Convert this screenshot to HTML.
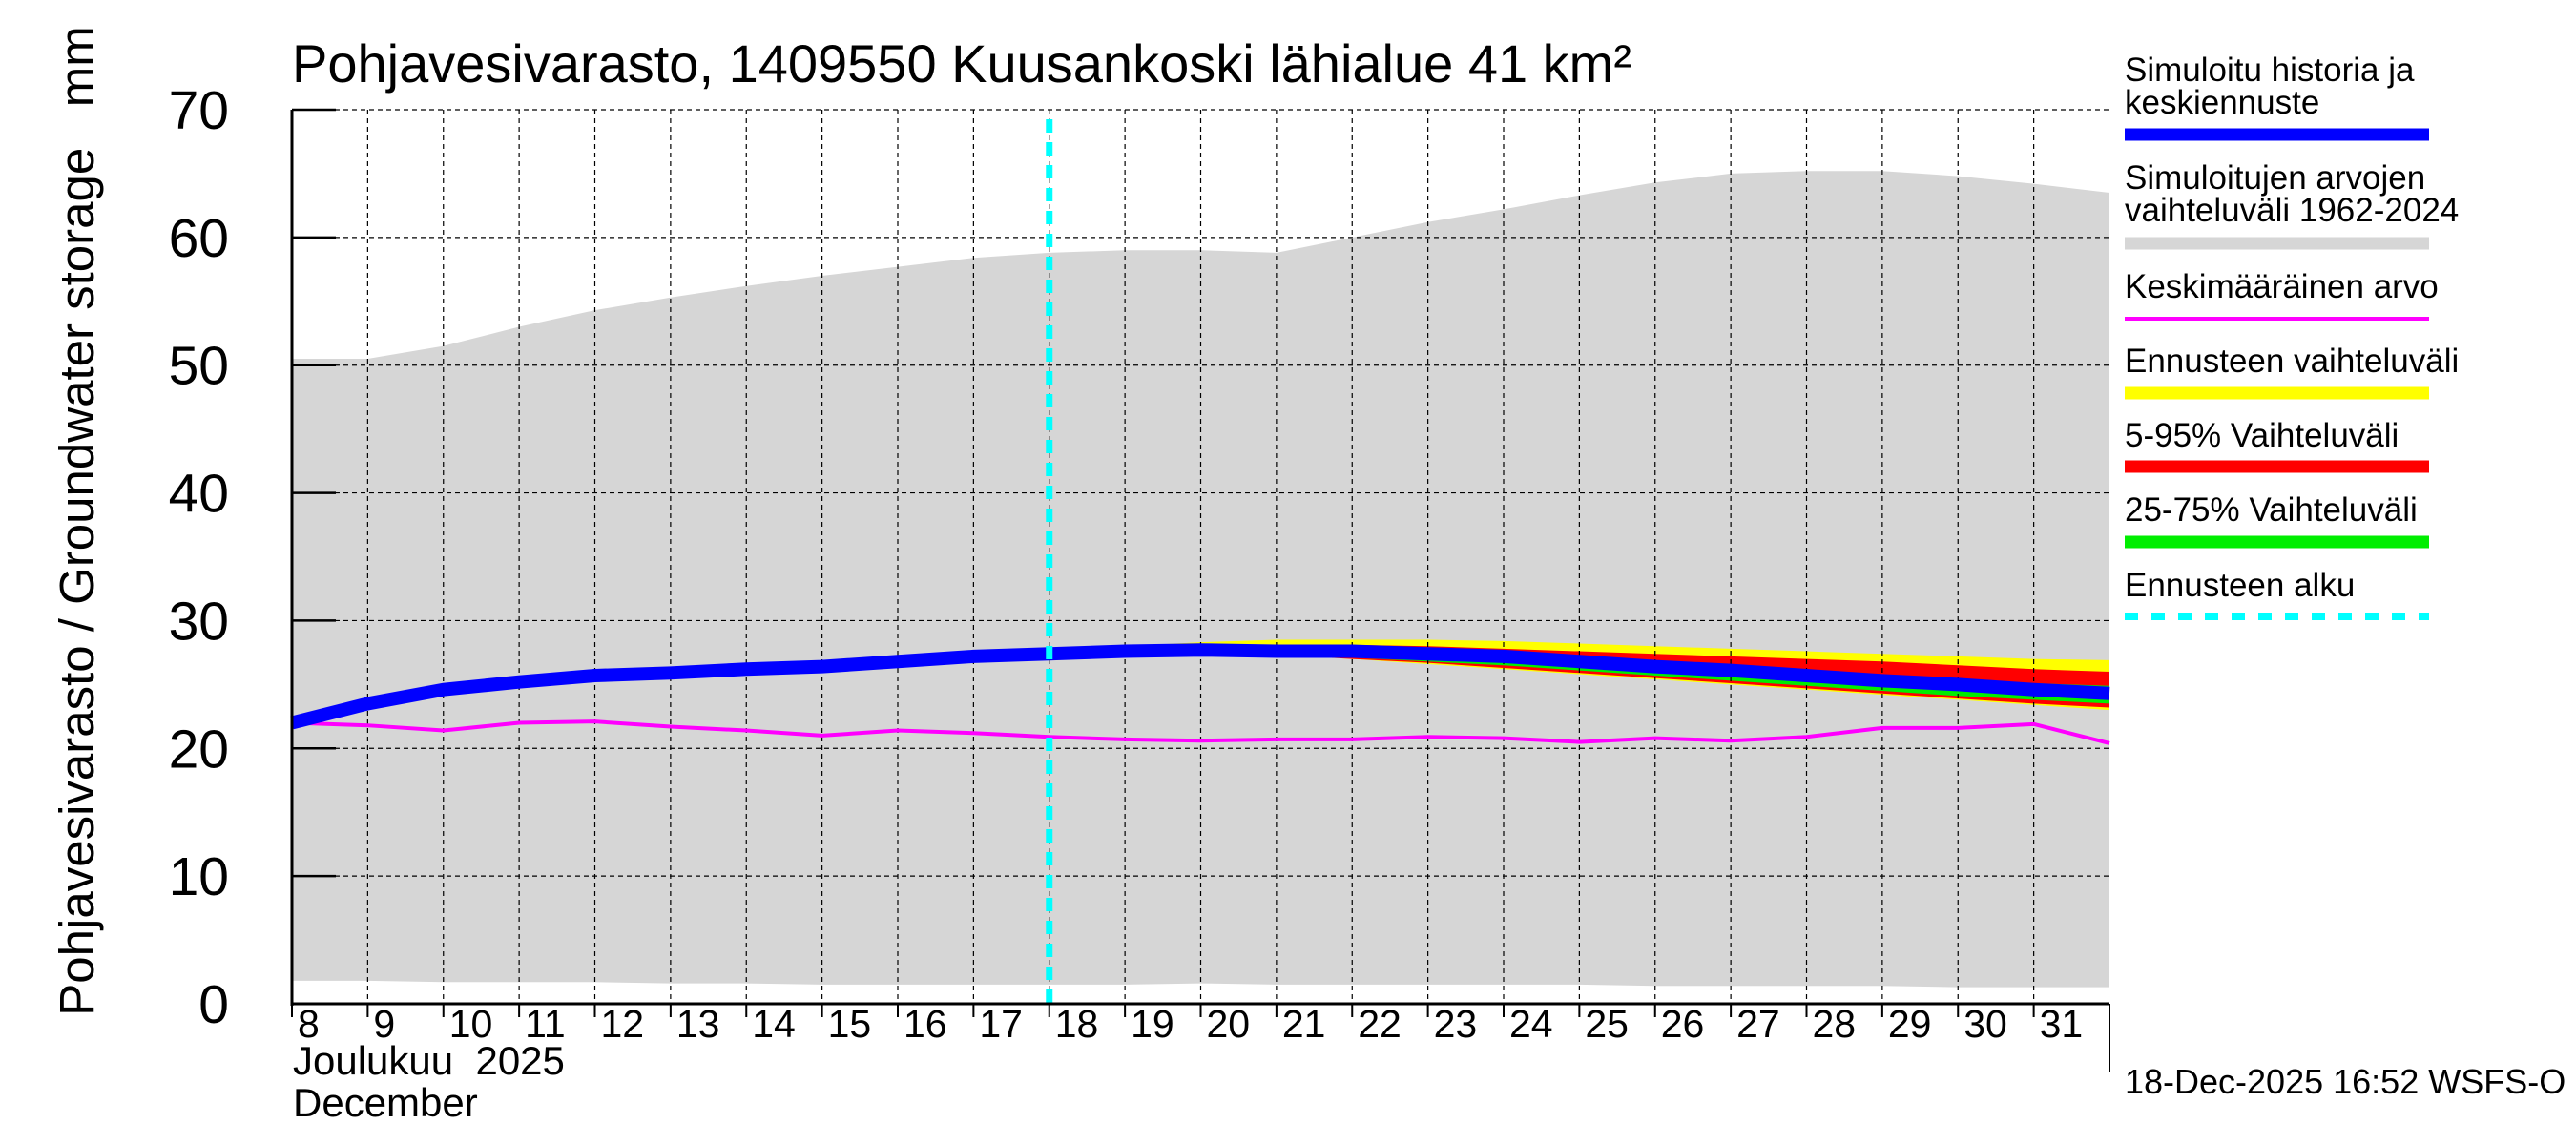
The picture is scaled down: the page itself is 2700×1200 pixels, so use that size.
<!DOCTYPE html>
<html><head><meta charset="utf-8"><style>
body{margin:0;background:#fff}
svg{display:block;font-family:"Liberation Sans",sans-serif}
</style></head><body>
<svg id="chart" width="2700" height="1200" viewBox="0 0 2700 1200">
<g id="bands"></g><g id="grid"></g><g id="lines"></g><g id="axes"></g><g id="legend"></g>
</svg>
<script>
const days=[8,9,10,11,12,13,14,15,16,17,18,19,20,21,22,23,24,25,26,27,28,29,30,31,32];
const histHi=[50.5,50.5,51.5,53,54.3,55.3,56.2,57,57.7,58.4,58.8,59,59,58.8,60,61.2,62.2,63.3,64.3,65,65.2,65.2,64.8,64.2,63.5];
const histLo=[1.8,1.8,1.7,1.7,1.7,1.6,1.6,1.5,1.5,1.5,1.5,1.5,1.6,1.5,1.5,1.5,1.5,1.5,1.4,1.4,1.4,1.4,1.3,1.3,1.3];
const meanVals=[22,21.8,21.4,22.0,22.1,21.7,21.4,21.0,21.4,21.2,20.9,20.7,20.6,20.7,20.7,20.9,20.8,20.5,20.8,20.6,20.9,21.6,21.6,21.9,20.4];
const simVals=[22,23.5,24.6,25.2,25.7,25.9,26.2,26.4,26.8,27.2,27.4,27.6,27.7,27.6,27.6,27.4,27.2,26.8,26.4,26.1,25.7,25.3,25.0,24.6,24.3];
const fcDays=[18,19,20,21,22,23,24,25,26,27,28,29,30,31,32];
const yellowHi=[27.4,28.0,28.3,28.5,28.5,28.5,28.4,28.2,28.0,27.8,27.6,27.4,27.2,27.0,26.9];
const yellowLo=[27.4,27.4,27.4,27.3,27.0,26.6,26.2,25.8,25.4,25.0,24.6,24.2,23.8,23.4,23.0];
const redHi=[27.4,27.8,28.0,28.1,28.1,28.0,27.8,27.6,27.4,27.2,27.0,26.8,26.5,26.2,26.0];
const redLo=[27.4,27.5,27.5,27.3,27.0,26.7,26.3,25.9,25.5,25.1,24.7,24.3,23.9,23.5,23.2];
const greenHi=[27.4,27.7,27.8,27.8,27.6,27.4,27.1,26.8,26.5,26.2,25.9,25.6,25.3,25.1,24.9];
const greenLo=[27.4,27.5,27.5,27.4,27.1,26.8,26.5,26.1,25.7,25.3,24.9,24.5,24.1,23.8,23.5];
const yTicks=[0,10,20,30,40,50,60,70];
const xTickLabels=["8","9","10","11","12","13","14","15","16","17","18","19","20","21","22","23","24","25","26","27","28","29","30","31"];
const forecastDay=18;

const X0=306,X1=2211,Y0=1052,Y1=115;
const x=d=>X0+(d-8)*(X1-X0)/24;
const y=v=>Y0-v*(Y0-Y1)/70;
const NS="http://www.w3.org/2000/svg";
function mk(tag,attrs,parent){const e=document.createElementNS(NS,tag);for(const k in attrs)e.setAttribute(k,attrs[k]);parent.appendChild(e);return e;}
const bands=document.getElementById('bands'),grid=document.getElementById('grid'),lines=document.getElementById('lines'),axes=document.getElementById('axes'),legend=document.getElementById('legend'),svg=document.getElementById('chart');
function area(xs,hi,lo,fill,name){
  let p=xs.map((d,i)=>(i?'L':'M')+x(d)+','+y(hi[i])).join('');
  for(let i=xs.length-1;i>=0;i--)p+='L'+x(xs[i])+','+y(lo[i]);
  const e=mk('path',{d:p+'Z',fill:fill},bands);
  
  
}
area(days,histHi,histLo,'#d6d6d6','historical-range-band');
area(fcDays,yellowHi,yellowLo,'#ffff00','forecast-range-band');
area(fcDays,redHi,redLo,'#ff0000','forecast-5-95-band');
area(fcDays,greenHi,greenLo,'#00ee00','forecast-25-75-band');
for(let d=9;d<=31;d++){const e=mk('line',{x1:x(d),x2:x(d),y1:Y1,y2:Y0,stroke:'#000','stroke-width':1.2,'stroke-dasharray':'5,4'},grid);

}
yTicks.forEach(v=>{if(v===0)return;const e=mk('line',{x1:X0,x2:X1,y1:y(v),y2:y(v),stroke:'#000','stroke-width':1.2,'stroke-dasharray':'5,4'},grid);

});
function line(xs,vals,col,w,name){const e=mk('polyline',{points:xs.map((d,i)=>x(d)+','+y(vals[i])).join(' '),fill:'none',stroke:col,'stroke-width':w,'stroke-linejoin':'round'},lines);

}
line(days,meanVals,'#ff00ff',4,'mean-line');
line(days,simVals,'#0000ff',14,'simulated-line');
const fl=mk('line',{x1:x(forecastDay),x2:x(forecastDay),y1:Y1+10,y2:Y0,stroke:'#00ffff','stroke-width':7,'stroke-dasharray':'14,10'},lines);


mk('line',{x1:X0,x2:X0,y1:Y1,y2:Y0+2,stroke:'#000','stroke-width':3},axes);
mk('line',{x1:X0,x2:X1,y1:Y0,y2:Y0,stroke:'#000','stroke-width':3},axes);
mk('line',{x1:X1,x2:X1,y1:Y0,y2:1123,stroke:'#000','stroke-width':2},axes);
yTicks.forEach(v=>{mk('line',{x1:X0,x2:352,y1:y(v),y2:y(v),stroke:'#000','stroke-width':2.5},axes);
const t=mk('text',{x:240,y:y(v)+20,'font-size':57,'text-anchor':'end'},axes);t.textContent=v;

});
xTickLabels.forEach((s,i)=>{const d=8+i;mk('line',{x1:x(d),x2:x(d),y1:Y0,y2:Y0+14,stroke:'#000','stroke-width':2},axes);
const t=mk('text',{x:x(d)+6,y:1087,'font-size':41},axes);t.textContent=s;

});
function txt(s,ax,ay,fs,name,extra){const t=mk('text',Object.assign({x:ax,y:ay,'font-size':fs},extra||{}),svg);t.textContent=s;

return t;}
txt('Pohjavesivarasto, 1409550 Kuusankoski lähialue 41 km²',306,86,56,'chart-title');
txt('Joulukuu\u00a0 2025',307,1126,42,'x-axis-month');
txt('December',307,1170,42,'x-axis-month-en');
txt('Pohjavesivarasto / Groundwater storage\u00a0\u00a0 mm',0,0,51,'y-axis-title',{transform:'translate(98,546) rotate(-90)','text-anchor':'middle'});
txt('18-Dec-2025 16:52 WSFS-O',2227,1146,36,'timestamp');
const lg=[
 [['Simuloitu historia ja','keskiennuste'],[85,119],141,'#0000ff',13,null,'legend-simulated'],
 [['Simuloitujen arvojen','vaihteluväli 1962-2024'],[198,232],255,'#d6d6d6',13,null,'legend-historical-range'],
 [['Keskimääräinen arvo'],[312],334,'#ff00ff',4,null,'legend-mean'],
 [['Ennusteen vaihteluväli'],[390],412,'#ffff00',13,null,'legend-forecast-range'],
 [['5-95% Vaihteluväli'],[468],489,'#ff0000',13,null,'legend-5-95'],
 [['25-75% Vaihteluväli'],[546],568,'#00ee00',13,null,'legend-25-75'],
 [['Ennusteen alku'],[625],646,'#00ffff',8,'14,14','legend-forecast-start']];
lg.forEach(r=>{r[0].forEach((s,i)=>txt(s,2227,r[1][i],35,r[6]+'-label'));
const a={x1:2227,x2:2546,y1:r[2],y2:r[2],stroke:r[3],'stroke-width':r[4]};if(r[5])a['stroke-dasharray']=r[5];
const e=mk('line',a,legend);

});
</script>
</body></html>
